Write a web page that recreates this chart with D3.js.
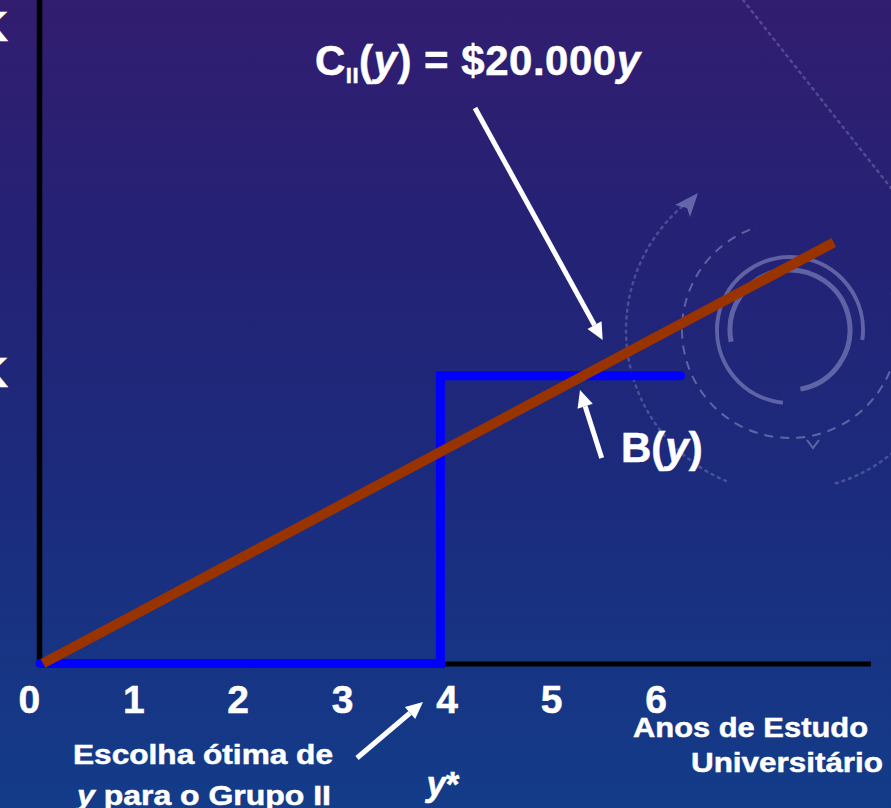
<!DOCTYPE html>
<html>
<head>
<meta charset="utf-8">
<script src="https://cdn.jsdelivr.net/npm/d3@7"></script>
<style>
  html, body { margin: 0; padding: 0; background: #1c2a7c; }
  svg { display: block; }
  text { font-family: "Liberation Sans", Arial, Helvetica, sans-serif; font-weight: bold; fill: #ffffff; stroke: #ffffff; stroke-width: 0.5px; }
</style>
</head>
<body>
<svg id="chart" width="891" height="808"></svg>
<script>
// ---- data ----
const xTickValues = [0, 1, 2, 3, 4, 5, 6];
const xTickLabels = ["0", "1", "2", "3", "4", "5", "6"];
const benefitYears = [0, 4, 4, 6.4];            // B(y) step function
const benefitValues = [0, 0, 108000, 108000];
const costYears = [0.03, 7.93];                  // C_II(y) = $20.000y
const costValues = [600, 158600];
const yTickValues = [110000, 240000];
const yTickLabels = ["$110K", "$240K"];
const optimalYears = 4;                          // y*

const W = 891, H = 808;
const svg = d3.select("#chart");

// ---- scales ----
const x = d3.scaleLinear().domain([0, 8]).range([40, 840.8]);
const y = d3.scaleLinear().domain([0, 158600]).range([665, 242.5]);
const xLabel = d3.scaleLinear().domain([0, 6]).range([29.3, 656]);

// ---- background ----
const defs = svg.append("defs");
const bg = defs.append("linearGradient").attr("id", "bg").attr("x1", 0).attr("y1", 0).attr("x2", 0).attr("y2", 1);
[[0, "#321d70"], [0.3, "#242275"], [0.6, "#1c2b7d"], [1, "#133c89"]].forEach(s =>
  bg.append("stop").attr("offset", s[0]).attr("stop-color", s[1]));
svg.append("rect").attr("width", W).attr("height", H).attr("fill", "url(#bg)");

// decorative rings (background ornament)
const deco = svg.append("g").attr("transform", "translate(790,330)")
  .attr("fill", "none").attr("stroke", "rgba(170,175,220,0.45)");
const rad = d => d * Math.PI / 180;
const arcPath = (r, a0, a1) => {
  const p = d3.path();
  p.arc(0, 0, r, rad(a0 - 90), rad(a1 - 90), false);
  return p.toString();
};
deco.append("path").attr("d", arcPath(73, 185.6, 457.9)).attr("stroke-width", 4);
deco.append("path").attr("d", arcPath(60, 258.8, 530)).attr("stroke-width", 5);
deco.append("path").attr("d", arcPath(108, 70, 342)).attr("stroke-width", 2).attr("stroke-dasharray", "9 7");
deco.append("path").attr("d", arcPath(164, 203, 320)).attr("stroke-width", 2.5)
  .attr("stroke", "rgba(170,175,220,0.3)").attr("stroke-dasharray", "2 5").attr("stroke-linecap", "round");
deco.append("path").attr("d", arcPath(160, 115, 165)).attr("stroke-width", 2.5)
  .attr("stroke", "rgba(170,175,220,0.3)").attr("stroke-dasharray", "2 5").attr("stroke-linecap", "round");
deco.append("path").attr("d", "M17,110 L23,118 L29,110").attr("stroke-width", 2);
deco.append("path").attr("d", "M-115,-125 L-92,-137 L-100,-113 L-103,-122 Z")
  .attr("fill", "rgba(150,160,215,0.55)").attr("stroke", "none");
svg.append("line").attr("x1", 743).attr("y1", 0).attr("x2", 891).attr("y2", 188)
  .attr("stroke", "rgba(170,175,220,0.3)").attr("stroke-width", 2.5)
  .attr("stroke-dasharray", "2 5").attr("stroke-linecap", "round");

// ---- axes ----
svg.append("line").attr("x1", x(0) - 0.5).attr("x2", x(0) - 0.5).attr("y1", 0).attr("y2", y(0) + 1.5)
  .attr("stroke", "#000").attr("stroke-width", 5.5);
svg.append("line").attr("x1", x(0) - 3).attr("x2", x(8.3)).attr("y1", y(0) - 1).attr("y2", y(0) - 1)
  .attr("stroke", "#000").attr("stroke-width", 5);

// y tick labels (cut off at the left edge)
svg.append("g").selectAll("text").data(yTickValues).join("text")
  .attr("x", 8).attr("y", d => y(d)).attr("dy", "0.36em")
  .attr("text-anchor", "end").attr("font-size", 43)
  .text((d, i) => yTickLabels[i]);

// x tick labels
svg.append("g").selectAll("text").data(xTickValues).join("text")
  .attr("x", d => xLabel(d)).attr("y", 713)
  .attr("text-anchor", "middle").attr("font-size", 39)
  .text((d, i) => xTickLabels[i]);

// ---- series ----
const benefit = benefitYears.map((v, i) => [v, benefitValues[i]]);
const cost = costYears.map((v, i) => [v, costValues[i]]);
const line = d3.line().x(d => x(d[0])).y(d => y(d[1]));

svg.append("path").attr("d", line(benefit)).attr("fill", "none")
  .attr("stroke", "#0000ff").attr("stroke-width", 9)
  .attr("stroke-linecap", "round").attr("stroke-linejoin", "miter")
  .attr("transform", "translate(0,-1.5)");

svg.append("path").attr("d", line(cost)).attr("fill", "none")
  .attr("stroke", "#993300").attr("stroke-width", 10).attr("stroke-linecap", "butt");

// ---- annotations ----
function arrow(x1, y1, x2, y2) {
  const ang = Math.atan2(y2 - y1, x2 - x1);
  const L = 17, Wd = 8;
  const bx = x2 - L * Math.cos(ang), by = y2 - L * Math.sin(ang);
  svg.append("line").attr("x1", x1).attr("y1", y1).attr("x2", bx).attr("y2", by)
    .attr("stroke", "#fff").attr("stroke-width", 5);
  const px = -Math.sin(ang) * Wd, py = Math.cos(ang) * Wd;
  svg.append("path").attr("d", `M${x2},${y2} L${bx + px},${by + py} L${bx - px},${by - py} Z`)
    .attr("fill", "#fff");
}
arrow(475, 108, 602.7, 340);
arrow(601.7, 458, 580, 390);
arrow(357, 758, 423, 702);

// title
const t = svg.append("text").attr("x", 315).attr("y", 75).attr("font-size", 42)
  .attr("textLength", 325).attr("lengthAdjust", "spacing");
t.append("tspan").text("C");
t.append("tspan").attr("font-size", 22).attr("dy", 8).text("II");
t.append("tspan").attr("dy", -8).text("(");
t.append("tspan").attr("font-style", "italic").text("y");
t.append("tspan").text(") = $20.000");
t.append("tspan").attr("font-style", "italic").text("y");

// B(y)
const b = svg.append("text").attr("x", 621).attr("y", 462).attr("font-size", 42);
b.append("tspan").text("B(");
b.append("tspan").attr("font-style", "italic").text("y");
b.append("tspan").text(")");

// x axis title
svg.append("text").attr("x", 633).attr("y", 737).attr("font-size", 28)
  .attr("textLength", 235).attr("lengthAdjust", "spacingAndGlyphs").text("Anos de Estudo");
svg.append("text").attr("x", 691).attr("y", 772).attr("font-size", 28)
  .attr("textLength", 192).attr("lengthAdjust", "spacingAndGlyphs").text("Universitário");

// optimal choice note
svg.append("text").attr("x", 73).attr("y", 764).attr("font-size", 27)
  .attr("textLength", 260).attr("lengthAdjust", "spacingAndGlyphs").text("Escolha ótima de");
const g2 = svg.append("text").attr("x", 77).attr("y", 805).attr("font-size", 27)
  .attr("textLength", 254).attr("lengthAdjust", "spacingAndGlyphs");
g2.append("tspan").attr("font-style", "italic").text("y");
g2.append("tspan").text(" para o Grupo II");

// y*
const ys = svg.append("text").attr("x", x(optimalYears) - 14).attr("y", 796).attr("font-size", 35);
ys.append("tspan").attr("font-style", "italic").text("y");
ys.append("tspan").text("*");
</script>
</body>
</html>
